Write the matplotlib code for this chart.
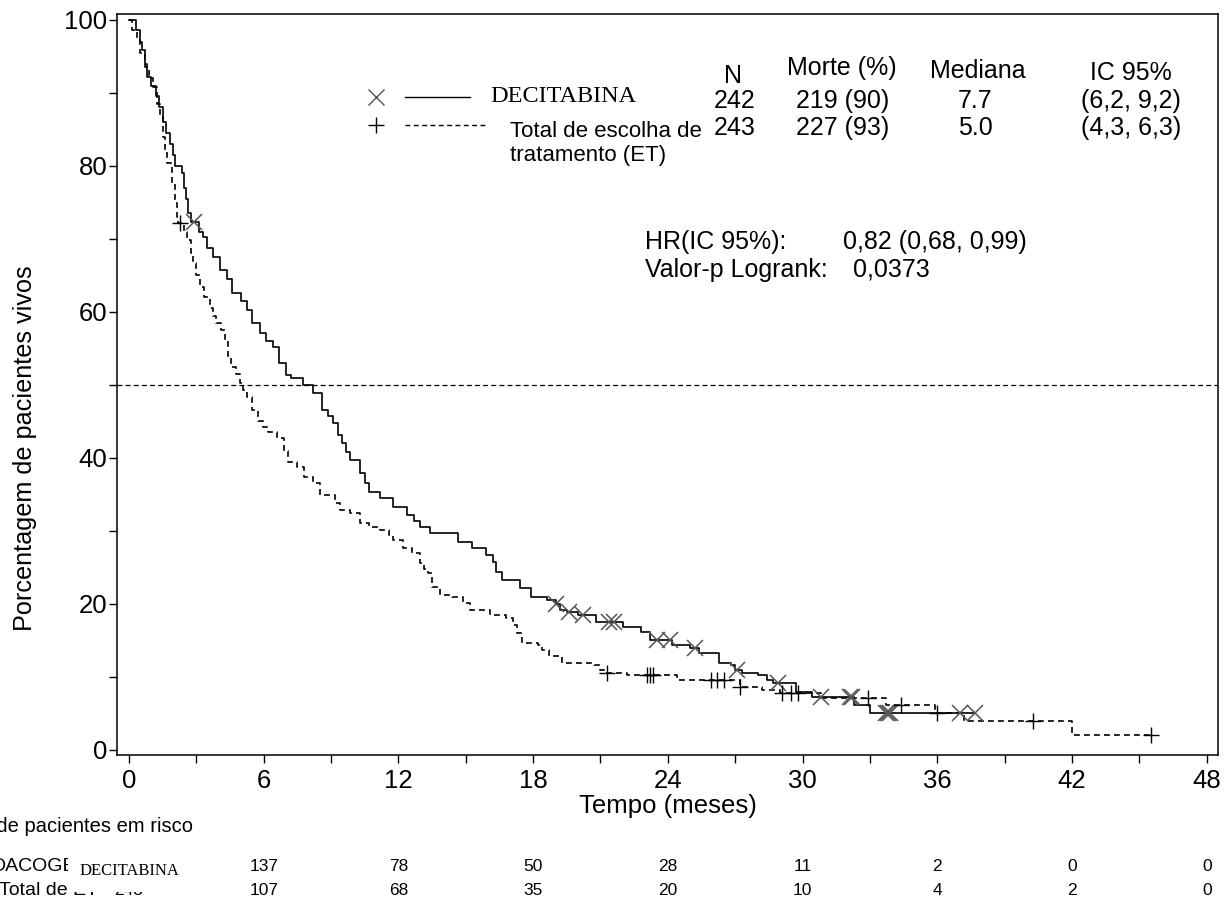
import matplotlib
matplotlib.use("Agg")
import matplotlib.pyplot as plt
from matplotlib.lines import Line2D
from matplotlib.patches import Rectangle
import numpy as np

plt.rcParams['font.family'] = ['Liberation Sans', 'DejaVu Sans']

# curva DECITABINA (escada, meses / % vivos)
dec_t = [0, 0.3, 0.5, 0.6, 0.7, 0.8, 1.0, 1.2, 1.35, 1.5, 1.65, 1.83, 1.95, 2.05, 2.35, 2.45,
         2.55, 2.63, 2.75, 3.1, 3.3, 3.5, 3.74, 4.05, 4.36, 4.6, 5.0, 5.25, 5.5, 5.83, 6.1,
         6.4, 6.7, 7.0, 7.2, 7.75, 8.2, 8.6, 8.85, 9.1, 9.3, 9.5, 9.65, 9.84, 10.3, 10.5,
         10.7, 11.2, 11.75, 12.4, 12.7, 12.96, 13.4, 14.65, 15.3, 15.9, 16.2, 16.35, 16.6,
         17.4, 17.9, 18.6, 19.0, 19.2, 19.5, 20.0, 20.8, 22.0, 22.8, 23.2, 24.2, 25.0, 25.4,
         26.3, 26.8, 27.0, 27.3, 28.0, 28.4, 28.7, 29.7, 30.4, 32.3, 33.0, 37.7]
dec_s = [100, 98.6, 97, 95.9, 94, 92.2, 91, 89.5, 88, 86, 84.5, 83, 81.5, 80, 79, 77,
         75.5, 73.5, 72.3, 71, 70.3, 68.8, 67.5, 65.7, 64.5, 62.6, 61.5, 60.3, 58.5, 57.1, 56,
         55.2, 53, 51.4, 51, 50, 48.9, 46.6, 45.8, 44.8, 43.2, 42, 40.8, 39.7, 37.9, 36.5,
         35.3, 34.5, 33.3, 32.2, 31.3, 30.5, 29.7, 28.5, 27.7, 26.7, 25.8, 24.4, 23.3,
         22.2, 21, 20.5, 20.0, 19.2, 18.9, 18.5, 17.5, 16.8, 16.2, 15.1, 14.4, 14.0, 13.3,
         11.9, 11.6, 11.0, 10.5, 10.2, 9.6, 9.2, 7.9, 7.2, 6.2, 5.1, 5.1]
dec_cens = [2.9, 19.0, 19.6, 20.2, 21.4, 21.6, 23.5, 24.1, 25.2, 27.1, 28.9, 30.8, 32.1,
            32.2, 33.7, 33.8, 33.9, 37.0, 37.7]

# curva Total de escolha de tratamento (ET)
et_t = [0, 0.15, 0.35, 0.5, 0.7, 0.9, 1.07, 1.25, 1.4, 1.5, 1.6, 1.7, 1.9, 2.05, 2.15, 2.2,
        2.45, 2.6, 2.75, 2.85, 3.0, 3.16, 3.35, 3.6, 3.75, 3.9, 4.1, 4.27, 4.4, 4.55, 4.75,
        4.94, 5.1, 5.25, 5.5, 5.75, 5.97, 6.2, 6.6, 6.9, 7.1, 7.5, 7.8, 8.2, 8.5, 9.2, 9.4,
        9.84, 10.3, 10.7, 11.2, 11.6, 11.75, 12.2, 12.6, 12.96, 13.15, 13.3, 13.5, 13.85,
        14.4, 14.9, 15.2, 16.1, 16.8, 17.1, 17.3, 17.5, 18.2, 18.4, 18.7, 19.3, 20.7, 21.0,
        21.2, 22.2, 24.4, 27.2, 28.2, 29.0, 30.8, 33.7, 35.9, 37.2, 42.0, 45.5]
et_s = [100, 98.6, 97.3, 95.5, 93.5, 92, 90.8, 88.5, 86.7, 84, 82, 80.4, 77.7, 74.9, 73, 72.2,
        71, 69.9, 68, 66.7, 65, 63.4, 62, 60.5, 59.5, 58.5, 57.5, 56.2, 53.8, 52.5, 51.5,
        50.3, 49.3, 48.4, 46.6, 45, 44.2, 43.5, 42.7, 41, 39.5, 38.8, 37.4, 36.6, 34.9, 33.8, 32.9,
        32.5, 31.1, 30.5, 30.1, 29.5, 28.8, 27.7, 27, 25.6, 24.8, 24.2, 22.3, 21.2,
        21, 20.1, 19.2, 18.5, 18.1, 17.1, 16, 14.7, 14.4, 13.7, 12.8, 11.9, 11.6, 11,
        10.5, 10.3, 9.6, 8.6, 8.2, 7.8, 7.1, 6.2, 5.1, 4.0, 2.0, 2.0]
et_cens = [2.27, 21.3, 23.05, 23.2, 23.35, 25.9, 26.2, 26.5, 27.2, 29.1, 29.5, 29.8, 32.9,
           34.4, 36.0, 40.25, 45.5]

# tabela de pacientes em risco
risco_t = [0, 6, 12, 18, 24, 30, 36, 42, 48]
risco_dec = [242, 137, 78, 50, 28, 11, 2, 0, 0]
risco_et = [243, 107, 68, 35, 20, 10, 4, 2, 0]

W, H = 1226, 897


def px(x, y):
    return x / W, 1 - y / H


def surv_at(tt, kt, ks):
    idx = np.searchsorted(kt, tt, side='right') - 1
    return np.asarray(ks)[idx]


fig = plt.figure(figsize=(W / 100, H / 100), dpi=100)
ax = fig.add_axes([117 / W, 1 - 755 / H, (1218 - 117) / W, (755 - 14) / H])

ax.step(dec_t, dec_s, where='post', color='black', lw=1.2)
ax.step(et_t, et_s, where='post', color='black', lw=1.2, linestyle=(0, (3.5, 2.5)))
ax.plot(dec_cens, surv_at(dec_cens, dec_t, dec_s), 'x', color='#555555', ms=11, mew=1.1)
ax.plot(et_cens, surv_at(et_cens, et_t, et_s), '+', color='black', ms=12, mew=1.0)

ax.axhline(50, color='black', lw=0.9, linestyle=(0, (4, 2.5)))

ax.set_xlim(-0.53, 48.5)
ax.set_ylim(-0.7, 100.8)
ax.set_xticks(range(0, 49, 6))
ax.set_xticks(range(3, 49, 6), minor=True)
ax.set_yticks(range(0, 101, 20))
ax.set_yticks(range(10, 100, 20), minor=True)
ax.tick_params(axis='both', which='both', direction='out', length=6, width=1, labelsize=18.5)
ax.tick_params(axis='x', pad=4)
ax.tick_params(axis='y', pad=1)
for sp in ax.spines.values():
    sp.set_linewidth(1.1)

ax.set_xlabel('Tempo (meses)', fontsize=18.5, labelpad=1)
fig.text(*px(25, 448), 'Porcentagem de pacientes vivos', rotation=90, fontsize=18.2,
         ha='center', va='center')

# legenda
fig.add_artist(Line2D([px(376, 0)[0]], [px(0, 97)[1]], marker='x', color='#555555',
                      ms=11, mew=1.0, transform=fig.transFigure))
fig.add_artist(Line2D([px(376, 0)[0]], [px(0, 125)[1]], marker='+', color='black',
                      ms=12, mew=1.0, transform=fig.transFigure))
fig.add_artist(Line2D([px(405, 0)[0], px(470, 0)[0]], [px(0, 97)[1]] * 2, color='black',
                      lw=1.0, transform=fig.transFigure))
fig.add_artist(Line2D([px(405, 0)[0], px(487, 0)[0]], [px(0, 125)[1]] * 2, color='black',
                      lw=1.0, linestyle=(0, (3.5, 2.5)), transform=fig.transFigure))
fig.text(*px(490, 96), 'DECITABINA', family='Liberation Serif', fontsize=17.5, va='center')
fig.text(*px(510, 131), 'Total de escolha de', fontsize=16, va='center')
fig.text(*px(510, 156), 'tratamento (ET)', fontsize=16, va='center')

# estatisticas
fs = 18
fig.text(*px(733, 76), 'N', fontsize=fs, ha='center', va='center')
fig.text(*px(842, 68), 'Morte (%)', fontsize=fs, ha='center', va='center')
fig.text(*px(978, 71), 'Mediana', fontsize=fs, ha='center', va='center')
fig.text(*px(1131, 73), 'IC 95%', fontsize=fs, ha='center', va='center')
linhas = [('242', '219 (90)', '7.7', '(6,2, 9,2)'), ('243', '227 (93)', '5.0', '(4,3, 6,3)')]
for i, (n, m, md, ic) in enumerate(linhas):
    y = 101 + i * 27
    fig.text(*px(735, y), n, fontsize=fs, ha='center', va='center')
    fig.text(*px(843, y), m, fontsize=fs, ha='center', va='center')
    fig.text(*px(975, y), md, fontsize=fs, ha='center', va='center')
    fig.text(*px(1131, y), ic, fontsize=fs, ha='center', va='center')

fig.text(*px(645, 242), 'HR(IC 95%):', fontsize=fs, va='center')
fig.text(*px(843, 242), '0,82 (0,68, 0,99)', fontsize=fs, va='center')
fig.text(*px(645, 270), 'Valor-p Logrank:', fontsize=fs, va='center')
fig.text(*px(853, 270), '0,0373', fontsize=fs, va='center')

# tabela de risco
fig.text(*px(193, 826), 'Número de pacientes em risco', fontsize=14.5, ha='right', va='center')
fig.text(*px(90, 866), 'DACOGEN', fontsize=14, ha='right', va='center')
fig.text(*px(98, 890), 'Total de ET', fontsize=14, ha='right', va='center')
for tt, a, b in zip(risco_t, risco_dec, risco_et):
    xf = ax.transData.transform((tt, 0))[0] / W
    fig.text(xf, px(0, 866)[1], str(a), fontsize=12.5, ha='center', va='center')
    fig.text(xf, px(0, 890)[1], str(b), fontsize=12.5, ha='center', va='center')

x0, y0 = px(68, 892)
x1, y1 = px(192, 850)
fig.add_artist(Rectangle((x0, y0), x1 - x0, y1 - y0, transform=fig.transFigure,
                         facecolor='white', edgecolor='none', zorder=5))
fig.text(*px(129, 871), 'DECITABINA', family='Liberation Serif', fontsize=12,
         ha='center', va='center', zorder=6)

fig.savefig('out.png', dpi=100)
